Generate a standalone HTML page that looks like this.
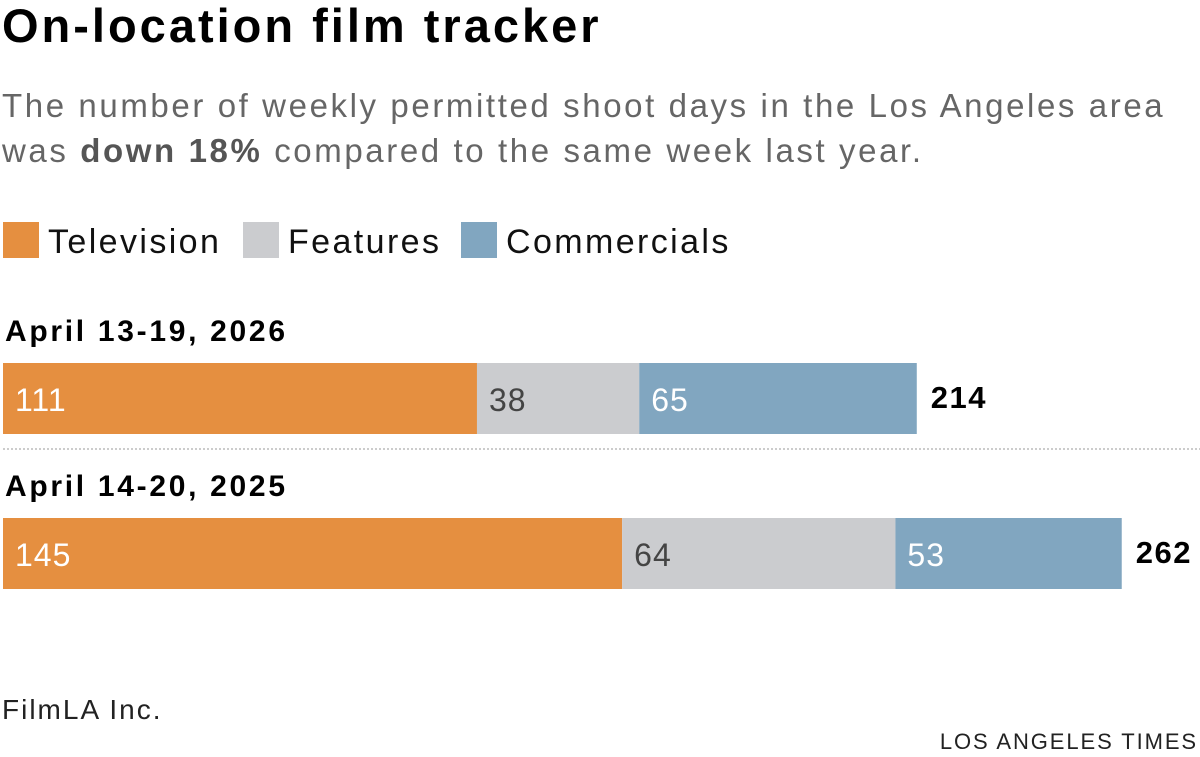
<!DOCTYPE html>
<html><head><meta charset="utf-8"><style>
body{margin:0;width:1200px;height:757px;background:#fff;font-family:"Liberation Sans",sans-serif;position:relative;overflow:hidden}
.a{position:absolute;white-space:nowrap}
</style></head><body>
<div class="a" style="left:2px;top:-2px;font-size:47px;font-weight:bold;color:#000;letter-spacing:3px">On-location film tracker</div>
<div class="a" style="left:2px;top:83px;font-size:33px;line-height:45px;color:#666;white-space:nowrap;letter-spacing:2.6px">The number of weekly permitted shoot days in the Los Angeles area<br>was <b style="color:#555">down 18%</b> compared to the same week last year.</div>
<svg id="chart" class="a" style="left:0;top:0" width="1200" height="757"></svg>
<div class="a" style="left:2px;top:694px;font-size:28px;color:#222;letter-spacing:2px">FilmLA Inc.</div>
<div class="a" style="right:2px;top:729px;font-size:22px;color:#222;letter-spacing:1.9px">LOS ANGELES TIMES</div>
<script>
const weeks=["April 13-19, 2026","April 14-20, 2025"];
const television=[111,145];
const features=[38,64];
const commercials=[65,53];
const seriesNames=["Television","Features","Commercials"];
const colors=["#e58f40","#cbcccf","#81a6c0"];
const textColors=["#fff","#444","#fff"];
const NS="http://www.w3.org/2000/svg";
const svg=document.getElementById('chart');
const x0=3, scale=4.27;
const xs=v=>x0+v*scale;
const rowTop=[363,518], barH=71;
function mk(t,a){const e=document.createElementNS(NS,t);for(const k in a)e.setAttribute(k,a[k]);svg.appendChild(e);return e;}
const legX=[3,243,461];
seriesNames.forEach((n,i)=>{
 const r=mk('rect',{x:legX[i],y:222,width:36,height:36,fill:colors[i]});
 
 
 const t=mk('text',{x:legX[i]+45,y:253,'font-size':34,fill:'#111','letter-spacing':2.4});t.textContent=n;
 
 
});
const series=[television,features,commercials];
weeks.forEach((w,r)=>{
 const top=rowTop[r];
 const lbl=mk('text',{x:5,y:top-22,'font-size':30,'font-weight':'bold',fill:'#000','letter-spacing':2.7});lbl.textContent=w;
 
 
 let cum=0;
 series.forEach((s,i)=>{
  const v=s[r];
  const rect=mk('rect',{x:xs(cum),y:top,width:v*scale,height:barH,fill:colors[i]});
  
  
  const t=mk('text',{x:xs(cum)+12,y:top+48,'font-size':32,fill:textColors[i],'letter-spacing':1});t.textContent=v;
  
  
  cum+=v;
 });
 const tot=mk('text',{x:xs(cum)+14,y:top+45,'font-size':31,'font-weight':'bold',fill:'#000','letter-spacing':1.5});tot.textContent=cum;
 
 
});
const d=mk('line',{x1:3,x2:1200,y1:449,y2:449,stroke:'#ccc','stroke-width':2,'stroke-dasharray':'2,2'});


</script>
</body></html>
